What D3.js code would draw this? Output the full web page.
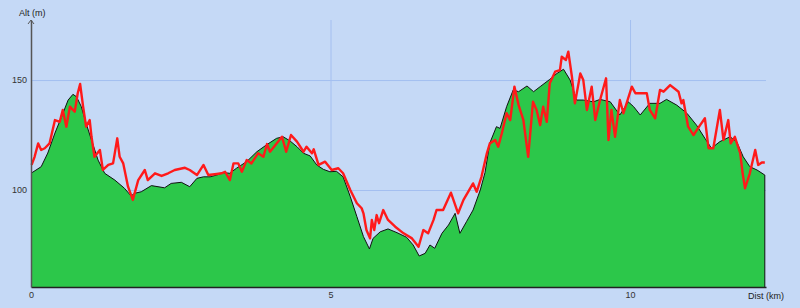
<!DOCTYPE html>
<html>
<head>
<meta charset="utf-8">
<script src="https://cdn.jsdelivr.net/npm/d3@7"></script>
<style>
  body { margin: 0; background: #c5d9f6; }
  svg { display: block; font-family: Arial, "Liberation Sans", sans-serif; }
  .tick text { fill: #333; font-size: 9px; }
</style>
</head>
<body>
<svg class="chart"></svg>
<script>
// terrain profile (km, m)
var terrainDist = [0.00,0.17,0.28,0.40,0.51,0.62,0.70,0.76,0.84,0.92,1.01,1.12,1.23,1.40,1.56,1.67,1.73,1.84,2.01,2.23,2.34,2.51,2.65,2.77,2.88,2.99,3.10,3.21,3.32,3.43,3.60,3.77,3.93,4.10,4.21,4.32,4.44,4.55,4.66,4.77,4.88,4.99,5.10,5.21,5.33,5.44,5.55,5.65,5.71,5.83,5.96,6.11,6.27,6.38,6.48,6.58,6.66,6.74,6.86,6.97,7.08,7.16,7.27,7.38,7.50,7.58,7.66,7.77,7.83,7.94,8.05,8.14,8.28,8.39,8.50,8.66,8.78,8.89,9.00,9.11,9.22,9.39,9.50,9.67,9.83,9.97,10.06,10.17,10.33,10.50,10.61,10.78,10.95,11.11,11.25,11.36,11.50,11.67,11.78,11.89,12.00,12.12,12.25];
var terrainAlt = [107.6,110.6,116.8,125.9,133.3,140.9,143.5,142.4,137.9,130.3,122.7,113.6,107.6,104.5,100.8,97.3,98.5,99.2,102.0,101.0,103.0,103.5,101.5,105.3,106.0,106.0,106.8,107.9,107.6,109.9,112.9,117.4,120.5,123.5,124.2,122.4,119.7,116.7,115.5,111.4,109.4,108.3,108.5,106.0,97.0,87.9,78.8,73.2,78.0,81.0,82.3,80.6,78.5,75.0,70.0,71.2,75.0,73.5,80.3,84.1,89.4,80.3,85.6,90.9,100.0,108.0,121.4,128.8,128.0,137.9,145.5,144.7,147.3,144.7,147.0,150.3,153.0,154.9,150.0,140.9,140.9,140.1,141.2,140.1,134.1,140.1,137.9,134.1,139.4,139.4,141.2,138.6,134.9,129.5,123.5,119.0,122.0,124.2,122.0,115.1,110.6,109.1,106.8];

// recorded GPS altitude (km, m)
var gpsDist = [0.01,0.06,0.12,0.17,0.23,0.31,0.40,0.48,0.53,0.59,0.65,0.73,0.78,0.82,0.87,0.92,0.98,1.01,1.06,1.15,1.20,1.29,1.37,1.44,1.48,1.54,1.62,1.70,1.79,1.90,1.95,2.07,2.18,2.29,2.40,2.57,2.65,2.77,2.88,2.96,3.10,3.18,3.24,3.32,3.38,3.46,3.52,3.60,3.68,3.79,3.88,3.94,3.99,4.10,4.19,4.26,4.34,4.44,4.55,4.60,4.69,4.72,4.80,4.91,5.02,5.13,5.21,5.33,5.44,5.52,5.55,5.60,5.66,5.69,5.73,5.77,5.81,5.88,5.96,6.08,6.22,6.36,6.47,6.55,6.63,6.72,6.77,6.88,7.01,7.13,7.22,7.38,7.44,7.52,7.61,7.66,7.75,7.80,7.86,7.94,8.00,8.07,8.14,8.22,8.30,8.38,8.44,8.50,8.55,8.61,8.66,8.75,8.83,8.86,8.93,8.97,9.03,9.08,9.17,9.22,9.28,9.36,9.42,9.50,9.60,9.64,9.69,9.75,9.83,9.89,10.03,10.09,10.28,10.33,10.42,10.50,10.56,10.67,10.81,10.86,10.89,10.97,11.06,11.17,11.25,11.31,11.39,11.50,11.56,11.64,11.68,11.75,11.84,11.88,11.92,12.00,12.09,12.14,12.20,12.25];
var gpsAlt = [111.4,115.1,121.2,118.2,119.0,121.2,131.8,131.0,136.4,128.8,137.9,135.6,144.0,148.2,137.9,128.8,131.8,124.2,115.1,118.2,109.1,111.4,112.1,123.5,115.1,112.1,101.5,95.5,104.5,109.1,104.5,107.6,106.4,107.6,109.1,110.1,109.1,106.8,111.4,106.8,107.3,107.6,108.3,104.5,112.1,112.1,108.3,113.6,112.1,116.7,115.1,120.9,117.4,121.2,124.2,117.4,125.0,122.0,117.4,119.7,116.7,118.5,111.4,112.9,109.1,109.9,107.6,100.0,94.0,91.7,89.4,81.8,78.0,86.4,81.8,88.6,84.9,90.9,86.4,83.3,80.3,78.0,74.2,81.8,80.3,86.4,90.9,90.9,98.8,89.4,95.5,103.0,99.2,106.0,116.7,121.2,122.7,119.7,125.8,134.9,131.8,147.0,138.6,131.8,115.1,140.1,136.4,129.5,137.9,131.0,148.5,153.8,154.5,160.6,159.1,162.9,151.5,139.4,153.0,150.0,136.4,147.0,131.8,140.9,150.8,122.7,136.4,124.2,140.9,134.9,147.0,144.0,144.0,136.4,132.6,145.5,144.7,147.7,144.7,139.4,140.9,128.8,125.0,129.5,132.6,119.0,119.0,136.4,122.7,131.8,121.2,124.2,116.7,107.6,100.8,107.6,118.2,111.4,112.5,112.5];

var xTicks = [0, 5, 10];
var yTicks = [100, 150];

var width = 800, height = 308;
var plotLeft = 31, plotRight = 766, plotTop = 20, plotBottom = 287;

var svg = d3.select(".chart").attr("width", width).attr("height", height);

var x = d3.scaleLinear().domain([0, 12.27]).range([plotLeft, plotRight]);
var y = d3.scaleLinear().domain([55.9, 177.3]).range([plotBottom, plotTop]);

var terrain = terrainDist.map(function(d, i){ return [d, terrainAlt[i]]; });
var gps = gpsDist.map(function(d, i){ return [d, gpsAlt[i]]; });

// grid
svg.append("g")
  .attr("transform", "translate(0," + plotBottom + ")")
  .call(d3.axisBottom(x).tickValues([5, 10]).tickSize(-(plotBottom - plotTop)).tickFormat(""))
  .call(function(g){ g.select(".domain").remove(); })
  .selectAll("line").attr("stroke", "#a4bff0");

svg.append("g")
  .attr("transform", "translate(" + plotLeft + ",0)")
  .call(d3.axisLeft(y).tickValues(yTicks).tickSize(-(plotRight - plotLeft)).tickFormat(""))
  .call(function(g){ g.select(".domain").remove(); })
  .selectAll("line").attr("stroke", "#a4bff0");

// terrain area
svg.append("path")
  .datum(terrain)
  .attr("fill", "#2cc74a")
  .attr("d", d3.area().x(function(d){ return x(d[0]); }).y0(plotBottom).y1(function(d){ return y(d[1]); }));

svg.append("path")
  .datum(terrain)
  .attr("fill", "none")
  .attr("stroke", "#111")
  .attr("stroke-width", 1)
  .attr("d", d3.line().x(function(d){ return x(d[0]); }).y(function(d){ return y(d[1]); }));

// right edge of the area
var last = terrain[terrain.length - 1];
svg.append("line")
  .attr("x1", x(last[0])).attr("x2", x(last[0]))
  .attr("y1", y(last[1])).attr("y2", plotBottom)
  .attr("stroke", "#111");

// gps line
svg.append("path")
  .datum(gps)
  .attr("fill", "none")
  .attr("stroke", "#ff1a1a")
  .attr("stroke-width", 2.4)
  .attr("stroke-linejoin", "round")
  .attr("d", d3.line().x(function(d){ return x(d[0]); }).y(function(d){ return y(d[1]); }));

// axes
var xAxis = svg.append("g")
  .attr("transform", "translate(0," + plotBottom + ")")
  .call(d3.axisBottom(x).tickValues(xTicks).tickSize(0).tickPadding(5).tickFormat(d3.format("d")));
xAxis.select(".domain").attr("stroke", "#222").attr("stroke-width", 1.5);

var yAxis = svg.append("g")
  .attr("transform", "translate(" + plotLeft + ",0)")
  .call(d3.axisLeft(y).tickValues(yTicks).tickSize(0).tickPadding(4));
yAxis.select(".domain").attr("stroke", "#555").attr("stroke-width", 1.5);

// arrow on top of y axis
svg.append("path")
  .attr("d", "M" + (plotLeft - 3) + "," + (plotTop + 4) + "L" + plotLeft + "," + plotTop + "L" + (plotLeft + 3) + "," + (plotTop + 4))
  .attr("fill", "none")
  .attr("stroke", "#555");

svg.append("text")
  .attr("x", plotLeft - 12).attr("y", plotTop - 4)
  .attr("font-size", 9).attr("fill", "#222")
  .text("Alt (m)");

svg.append("text")
  .attr("x", 748).attr("y", 299)
  .attr("font-size", 9).attr("fill", "#222")
  .text("Dist (km)");
</script>
</body>
</html>
